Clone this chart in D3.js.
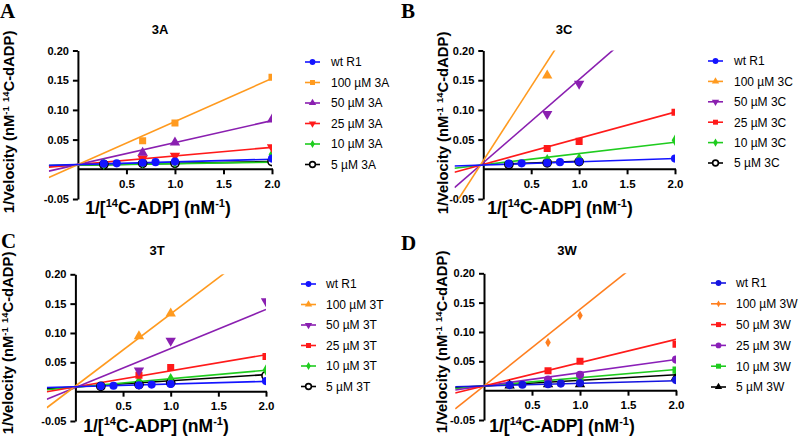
<!DOCTYPE html>
<html><head><meta charset="utf-8">
<script src="https://cdn.jsdelivr.net/npm/d3@7"></script>
<style>body{margin:0;background:#fff}svg{display:block}</style>
</head><body>
<svg id="chart" width="800" height="442"></svg>
<script>
// ---------------- DATA ----------------
const panelLetters = ["A", "B", "C", "D"];
const panelTitles = ["3A", "3C", "3T", "3W"];
const xTickValues = [0.5, 1.0, 1.5, 2.0];
const yTickValues = [-0.05, 0.05, 0.10, 0.15, 0.20];

// wild type control (same in all panels)
const wtX = [0.267, 0.4, 0.667, 0.8, 1.0, 2.0];
const wtY = [0.0095, 0.0100, 0.0110, 0.0120, 0.0130, 0.0180];

// Panel A (3A)
const namesA = ["wt R1", "100 µM 3A", "50 µM 3A", "25 µM 3A", "10 µM 3A", "5 µM 3A"];
const colorsA = ["#1414ff", "#ff9a1f", "#8a1fb0", "#ff1a1a", "#1fcc1f", "#000000"];
const shapesA = ["circle", "square", "triangle", "triangleDown", "diamond", "openCircle"];
const xA = [wtX, [0.667, 1.0, 2.0], [0.667, 1.0, 2.0], [0.667, 1.0, 2.0], [0.267, 0.667, 1.0, 2.0], [0.267, 0.667, 1.0, 2.0]];
const yA = [wtY, [0.048, 0.078, 0.155], [0.028, 0.045, 0.084], [0.018, 0.023, 0.037], [0.009, 0.011, 0.012, 0.025], [0.008, 0.010, 0.010, 0.013]];
const slopesA = [0.0045, 0.0725, 0.037, 0.0145, 0.0025, 0.003];
const interceptsA = [0.008, 0.008, 0.008, 0.008, 0.007, 0.007];
const fitEndA = [2, 2, 2, 2, 2, 2];

// Panel B (3C)
const namesB = ["wt R1", "100 µM 3C", "50 µM 3C", "25 µM 3C", "10 µM 3C", "5 µM 3C"];
const colorsB = ["#1414ff", "#ff9a1f", "#8a1fb0", "#ff1a1a", "#1fcc1f", "#000000"];
const shapesB = ["circle", "triangle", "triangleDown", "square", "diamond", "openCircle"];
const xB = [wtX, [0.667], [0.667, 1.0], [0.667, 1.0, 2.0], [0.667, 1.0, 2.0], [0.267, 0.667, 1.0]];
const yB = [wtY, [0.158], [0.093, 0.144], [0.035, 0.047, 0.096], [0.016, 0.018, 0.049], [0.008, 0.011, 0.013]];
const slopesB = [0.0055, 0.25, 0.140, 0.044, 0.019, 0.006];
const interceptsB = [0.0072, 0.0145, 0.0112, 0.0083, 0.0076, 0.0075];
const fitEndB = [2, 2, 2, 2, 2, 1.0];

// Panel C (3T)
const namesC = ["wt R1", "100 µM 3T", "50 µM 3T", "25 µM 3T", "10 µM 3T", "5 µM 3T"];
const colorsC = ["#1414ff", "#ff9a1f", "#8a1fb0", "#ff1a1a", "#1fcc1f", "#000000"];
const shapesC = ["circle", "triangle", "triangleDown", "square", "diamond", "openCircle"];
const xC = [wtX, [0.667, 1.0], [0.667, 1.0, 2.0], [0.667, 1.0, 2.0], [0.667, 1.0, 2.0], [0.267, 0.667, 1.0, 2.0]];
const yC = [wtY, [0.0946, 0.133], [0.036, 0.0866, 0.154], [0.028, 0.041, 0.060], [0.018, 0.022, 0.037], [0.009, 0.012, 0.015, 0.027]];
const slopesC = [0.0045, 0.123, 0.0665, 0.0275, 0.0145, 0.0105];
const interceptsC = [0.0085, 0.0095, 0.007, 0.008, 0.0075, 0.008];
const fitEndC = [2, 2, 2, 2, 2, 2];

// Panel D (3W)
const namesD = ["wt R1", "100 µM 3W", "50 µM 3W", "25 µM 3W", "10 µM 3W", "5 µM 3W"];
const colorsD = ["#1414e0", "#ff7f1f", "#ff1a1a", "#8a1fb8", "#1fcc1f", "#000000"];
const shapesD = ["circle", "smallDiamond", "square", "circle", "square", "triangle"];
const xD = [wtX, [0.667, 1.0], [0.667, 1.0, 2.0], [0.667, 1.0, 2.0], [0.667, 1.0, 2.0], [0.267, 0.667, 1.0, 2.0]];
const yD = [wtY, [0.082, 0.128], [0.034, 0.050, 0.079], [0.019, 0.027, 0.053], [0.015, 0.018, 0.035], [0.009, 0.011, 0.011, 0.023]];
const slopesD = [0.0045, 0.1307, 0.0397, 0.0225, 0.014, 0.0095];
const interceptsD = [0.008, 0.008, 0.008, 0.008, 0.008, 0.008];
const fitEndD = [2, 2, 2, 2, 2, 2];

// ---------------- LAYOUT ----------------
const panels = [
  {names: namesA, colors: colorsA, shapes: shapesA, xs: xA, ys: yA, m: slopesA, b: interceptsA, end: fitEndA,
   xr: [48.8, 272], yr: [199, 50.5], letter: [0, 18], title: [160, 33.5], ytitle: [14, 122], xtitle: [158, 214], legend: [305, 331, 62, 20.5]},
  {names: namesB, colors: colorsB, shapes: shapesB, xs: xB, ys: yB, m: slopesB, b: interceptsB, end: fitEndB,
   xr: [454.5, 675], yr: [199, 50.5], letter: [401, 18], title: [564, 33.5], ytitle: [448, 123], xtitle: [560, 214], legend: [708, 734, 61, 20.4]},
  {names: namesC, colors: colorsC, shapes: shapesC, xs: xC, ys: yC, m: slopesC, b: interceptsC, end: fitEndC,
   xr: [46.8, 266], yr: [421, 274.3], letter: [1, 248], title: [157, 255], ytitle: [13, 343], xtitle: [156, 432], legend: [301, 326, 284, 20.5]},
  {names: namesD, colors: colorsD, shapes: shapesD, xs: xD, ys: yD, m: slopesD, b: interceptsD, end: fitEndD,
   xr: [455.2, 676], yr: [420, 273.3], letter: [401, 250], title: [567, 255], ytitle: [447, 342], xtitle: [562, 432], legend: [711, 736, 283, 20.8]}
];

const svg = d3.select("#chart");
const sans = "Liberation Sans, Arial, sans-serif";

function symbolPath(shape, size) {
  let type = d3.symbolCircle, s = size;
  if (shape === "square") { type = d3.symbolSquare; s = size * 0.95; }
  else if (shape === "triangle" || shape === "triangleDown") { type = d3.symbolTriangle; s = size * 0.9; }
  else if (shape === "diamond") { type = d3.symbolDiamond; s = size * 0.75; }
  else if (shape === "smallDiamond") { type = d3.symbolDiamond; s = size * 0.5; }
  return d3.symbol().type(type).size(s)();
}
function drawMarker(g, shape, color, cx, cy, size) {
  const p = g.append("path").attr("d", symbolPath(shape, size))
    .attr("transform", `translate(${cx},${cy})` + (shape === "triangleDown" ? " rotate(180)" : ""));
  if (shape === "openCircle") {
    p.attr("fill", "#fff").attr("stroke", color).attr("stroke-width", 1.6);
  } else {
    p.attr("fill", color);
  }
}

panels.forEach((P, pi) => {
  const x = d3.scaleLinear().domain([-0.3, 2.0]).range(P.xr);
  const y = d3.scaleLinear().domain([-0.05, 0.20]).range(P.yr);
  const g = svg.append("g");

  // clip
  const cid = "clip" + pi;
  svg.append("defs").append("clipPath").attr("id", cid).append("rect")
    .attr("x", x(-0.3)).attr("y", y(0.2)).attr("width", x(2.0) - x(-0.3)).attr("height", y(-0.05) - y(0.2));

  // y axis at x = 0
  const yAxis = d3.axisLeft(y).tickValues(yTickValues).tickFormat(d => d.toFixed(2)).tickSize(5).tickSizeOuter(0);
  const ya = g.append("g").attr("transform", `translate(${x(0)},0)`).call(yAxis);
  ya.select(".domain").attr("stroke", "#000").attr("stroke-width", 2);
  ya.selectAll(".tick line").attr("stroke-width", 2);
  ya.selectAll("text").attr("font-family", sans).attr("font-weight", "bold").attr("font-size", 11).attr("fill", "#000").attr("dx", -1);

  // x axis at y = 0
  const xAxis = d3.axisBottom(x).tickValues(xTickValues).tickFormat(d => d.toFixed(1)).tickSize(5).tickSizeOuter(0);
  const xa = g.append("g").attr("transform", `translate(0,${y(0)})`).call(xAxis);
  xa.select(".domain").remove();
  xa.append("line").attr("x1", x(0)).attr("x2", x(2.0) + 1).attr("stroke", "#000").attr("stroke-width", 2);
  xa.selectAll(".tick line").attr("stroke-width", 2);
  xa.selectAll("text").attr("font-family", sans).attr("font-weight", "bold").attr("font-size", 11.5).attr("fill", "#000").attr("dy", "0.9em");

  // fit lines (drawn in reverse order so wt is on top)
  const lg = g.append("g").attr("clip-path", `url(#${cid})`);
  const order = d3.range(P.names.length).reverse();
  order.forEach(i => {
    const x0 = i === 5 && P.end[i] < 2 ? 0.267 : -0.3;
    const pts = [[x0, P.m[i] * x0 + P.b[i]], [P.end[i], P.m[i] * P.end[i] + P.b[i]]];
    lg.append("path").attr("d", d3.line().x(d => x(d[0])).y(d => y(d[1]))(pts))
      .attr("fill", "none").attr("stroke", P.colors[i]).attr("stroke-width", 1.6);
  });
  order.forEach(i => {
    P.xs[i].forEach((xv, k) => {
      drawMarker(lg, P.shapes[i], P.colors[i], x(xv), y(P.ys[i][k]), 52);
    });
  });

  // panel letter
  svg.append("text").attr("x", P.letter[0]).attr("y", P.letter[1])
    .attr("font-family", "Liberation Serif, Times New Roman, serif").attr("font-weight", "bold")
    .attr("font-size", 21).text(panelLetters[pi]);

  // title
  svg.append("text").attr("x", P.title[0]).attr("y", P.title[1]).attr("text-anchor", "middle")
    .attr("font-family", sans).attr("font-weight", "bold").attr("font-size", 13).text(panelTitles[pi]);

  // y title
  const yt = svg.append("text").attr("transform", `translate(${P.ytitle[0]},${P.ytitle[1]}) rotate(-90)`)
    .attr("text-anchor", "middle").attr("font-family", sans).attr("font-weight", "bold").attr("font-size", 14.8);
  yt.append("tspan").text("1/Velocity (nM");
  yt.append("tspan").attr("dy", -5.5).attr("font-size", 9.5).text("-1");
  yt.append("tspan").attr("dy", 5.5).text(" ");
  yt.append("tspan").attr("dy", -5.5).attr("font-size", 9.5).text("14");
  yt.append("tspan").attr("dy", 5.5).text("C-dADP)");

  // x title
  const xt = svg.append("text").attr("x", P.xtitle[0]).attr("y", P.xtitle[1])
    .attr("text-anchor", "middle").attr("font-family", sans).attr("font-weight", "bold").attr("font-size", 17.5);
  xt.append("tspan").text("1/[");
  xt.append("tspan").attr("dy", -7).attr("font-size", 11).text("14");
  xt.append("tspan").attr("dy", 7).text("C-ADP] (nM");
  xt.append("tspan").attr("dy", -7).attr("font-size", 11).text("-1");
  xt.append("tspan").attr("dy", 7).text(")");

  // legend
  const [lx, tx, ly, dy] = P.legend;
  P.names.forEach((nm, i) => {
    const cy = ly + i * dy;
    svg.append("line").attr("x1", lx).attr("x2", lx + 15).attr("y1", cy).attr("y2", cy)
      .attr("stroke", P.colors[i]).attr("stroke-width", 1.6);
    drawMarker(svg, P.shapes[i], P.colors[i], lx + 7.5, cy, 26);
    svg.append("text").attr("x", tx).attr("y", cy + 4.3).attr("font-family", sans)
      .attr("font-size", 12).attr("fill", "#000").text(nm);
  });
});
</script>
</body></html>
